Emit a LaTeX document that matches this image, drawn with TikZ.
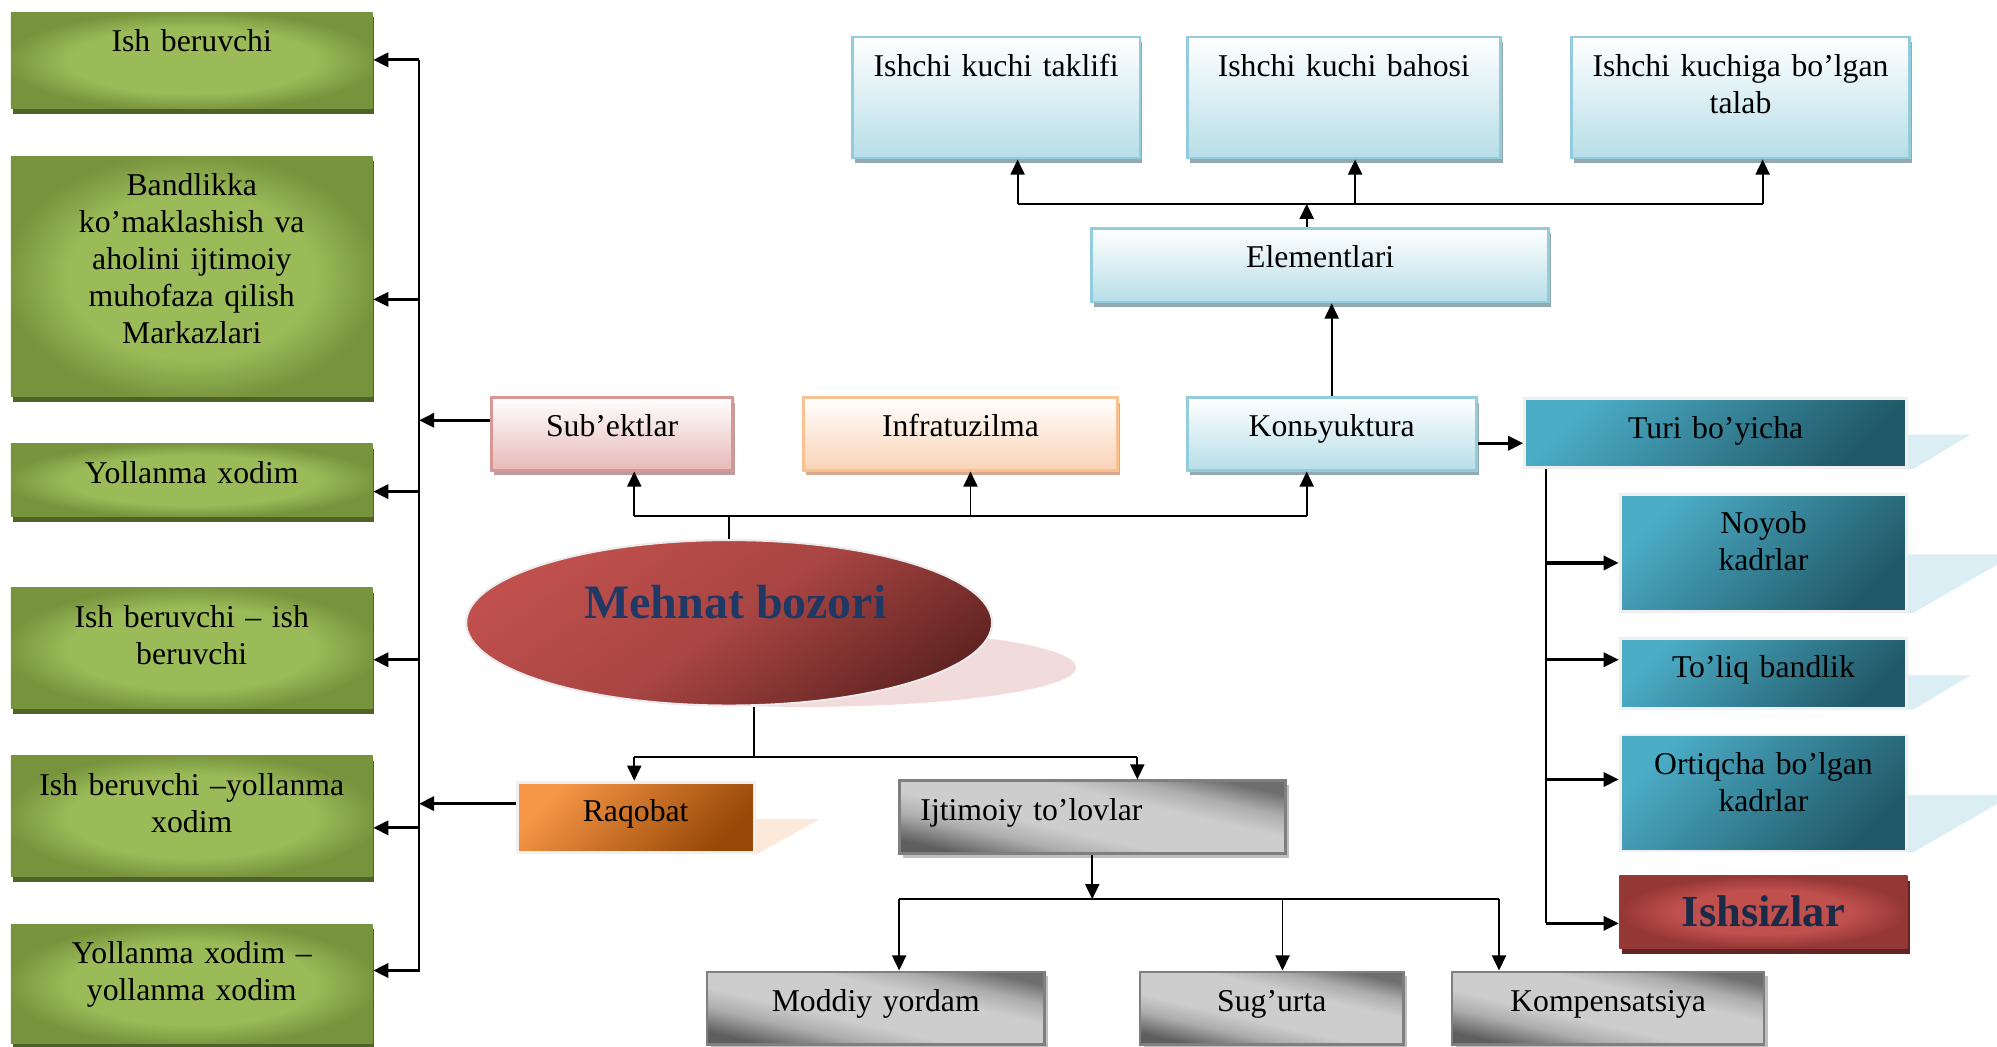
\documentclass[tikz,border=0pt]{standalone}
\usepackage{fontspec}
\setmainfont{Liberation Serif}
\usetikzlibrary{arrows.meta,shapes.geometric,shadows}

\definecolor{grn}{HTML}{77933C}
\definecolor{grnlt}{HTML}{9BBB59}
\definecolor{grndk}{HTML}{4F6228}
\definecolor{blueedge}{HTML}{93CDDD}
\definecolor{bluelt}{HTML}{B7DEE8}
\definecolor{bluesh}{HTML}{93A9AF}
\definecolor{pinkedge}{HTML}{D99694}
\definecolor{pinklt}{HTML}{E6B9B8}
\definecolor{pinksh}{HTML}{BC9C9C}
\definecolor{peachedge}{HTML}{FAC090}
\definecolor{peachlt}{HTML}{FAD3B6}
\definecolor{peachsh}{HTML}{D5AA8E}
\definecolor{teallt}{HTML}{4BACC6}
\definecolor{tealdk}{HTML}{215968}
\definecolor{tealsh}{HTML}{DAEEF3}
\definecolor{orlt}{HTML}{F79646}
\definecolor{ordk}{HTML}{984807}
\definecolor{orsh}{HTML}{FDE9D9}
\definecolor{redlt}{HTML}{C0504D}
\definecolor{redmid}{HTML}{953735}
\definecolor{reddk}{HTML}{632523}
\definecolor{redsh}{HTML}{F2DCDB}
\definecolor{navy}{HTML}{1F3864}
\definecolor{darknavy}{HTML}{1B2A47}
\definecolor{gmdark}{HTML}{5E5E5E}
\definecolor{gmhalf}{HTML}{ADADAD}
\definecolor{gmlight}{HTML}{CDCDCD}
\definecolor{gmmid}{HTML}{6E6E6E}
\definecolor{grayedge}{HTML}{7F7F7F}
\definecolor{graysh}{HTML}{BFBFBF}

\newcommand{\dpx}{0.3613pt}

\pgfdeclareradialshading{greenglow}{\pgfpoint{0bp}{0bp}}{color(0bp)=(grnlt); color(17bp)=(grnlt); color(26bp)=(grn); color(50bp)=(grn)}
\pgfdeclareradialshading{redglow}{\pgfpoint{0bp}{0bp}}{color(0bp)=(redlt); color(15bp)=(redlt); color(25bp)=(redmid); color(50bp)=(redmid)}
\pgfdeclareverticalshading{metal}{100bp}{color(0bp)=(gmdark); color(25bp)=(gmdark); color(35bp)=(gmhalf); color(43bp)=(gmlight); color(59bp)=(gmlight); color(67bp)=(gmhalf); color(75bp)=(gmmid); color(100bp)=(gmmid)}

\begin{document}
\begin{tikzpicture}[x=\dpx, y=-\dpx,
	every node/.style={font=\fontsize{9}{10.5}\selectfont},
	base/.style 2 args={rectangle, anchor=north west, inner sep=0pt, align=center,
		text width=#1*\dpx, text height=31*\dpx, text depth=(#2-31)*\dpx},
	greenbox/.style={shade, shading=greenglow,
		drop shadow={fill=grndk, opacity=1, shadow xshift=0.5pt, shadow yshift=-1.5pt}},
	bluebox/.style={draw=blueedge, line width=0.8pt, top color=white, bottom color=bluelt,
		drop shadow={fill=bluesh, opacity=1, shadow xshift=0.7pt, shadow yshift=-1.5pt}},
	pinkbox/.style={draw=pinkedge, line width=0.8pt, top color=white, bottom color=pinklt,
		drop shadow={fill=pinksh, opacity=1, shadow xshift=0.7pt, shadow yshift=-1.5pt}},
	peachbox/.style={draw=peachedge, line width=0.8pt, top color=white, bottom color=peachlt,
		drop shadow={fill=peachsh, opacity=1, shadow xshift=0.7pt, shadow yshift=-1.5pt}},
	tealbox/.style={draw=white!94!black, line width=0.8pt, top color=teallt, bottom color=tealdk, shading angle=45},
	orangebox/.style={draw=white!94!black, line width=0.8pt, top color=orlt, bottom color=ordk, shading angle=45},
	graybox/.style={draw=grayedge, line width=0.8pt, shade, shading=metal, shading angle=-13,
		drop shadow={fill=graysh, opacity=1, shadow xshift=1pt, shadow yshift=-1.2pt}},
	redbox/.style={shade, shading=redglow,
		drop shadow={fill=reddk, opacity=1, shadow xshift=0.7pt, shadow yshift=-1.5pt}},
	bus/.style={line width=0.55pt},
	arr/.style={-{Triangle[length=4.3pt,width=4pt]}, line width=0.55pt},
	stub/.style={arr, line width=0.9pt}]

	\useasboundingbox (0,0) rectangle (1568,822);

	\fill[redsh] (630,524) ellipse [x radius=215, y radius=31];

	\node[greenbox, base={284}{76}] (ishber) at (8,9) {Ish beruvchi};
	\node[greenbox, base={284}{189}] (bandlik) at (8,122) {Bandlikka\\ko’maklashish va\\aholini ijtimoiy\\muhofaza qilish\\Markazlari};
	\node[greenbox, base={284}{57}] (yollanma) at (8,348) {Yollanma xodim};
	\node[greenbox, base={284}{95}] (ishish) at (8,461) {Ish beruvchi – ish\\beruvchi};
	\node[greenbox, base={284}{95}] (ishyol) at (8,593) {Ish beruvchi –yollanma\\xodim};
	\node[greenbox, base={284}{94}] (yolyol) at (8,725) {Yollanma xodim –\\yollanma xodim};

	\node[bluebox, base={226}{95}] (taklif) at (668,28) {Ishchi kuchi taklifi};
	\node[bluebox, base={246}{95}] (bahosi) at (931,28) {Ishchi kuchi bahosi};
	\node[bluebox, base={265}{95}] (talab) at (1233,28) {Ishchi kuchiga bo’lgan\\talab};
	\node[bluebox, base={359}{58}] (elem) at (856,178) {Elementlari};

	\node[pinkbox, base={189}{57}] (subekt) at (385,311) {Sub’ektlar};
	\node[peachbox, base={246}{57}] (infra) at (630,311) {Infratuzilma};
	\node[bluebox, base={227}{57}] (konb) at (931,311) {Konьyuktura};

	\node[ellipse, minimum width=413*\dpx, minimum height=130*\dpx, inner sep=0pt,
		text height=25*\dpx, text depth=32*\dpx, draw=white!92!black, line width=0.6pt,
		top color=redlt, bottom color=reddk, middle color=redlt!75!reddk, shading angle=35, text=navy,
		font=\bfseries\fontsize{13.6}{16}\selectfont] (mehnat) at (572.5,489) {\hspace*{3.6pt}Mehnat bozori};

	\node[orangebox, base={186}{55}] (raqobat) at (405,613) {Raqobat};
	\node[graybox, base={303}{57}, align=left] (ijtim) at (705,612) {\hspace*{6pt}Ijtimoiy to’lovlar};
	\node[graybox, base={265}{57}] (moddiy) at (554,762) {Moddiy yordam};
	\node[graybox, base={207}{57}] (sugurta) at (894,762) {Sug’urta};
	\node[graybox, base={245}{57}] (kompens) at (1139,762) {Kompensatsiya};

	\node[tealbox, base={300}{54}] (turi) at (1196,312) {Turi bo’yicha};
	\node[tealbox, base={225}{92}] (noyob) at (1271,387) {Noyob\\kadrlar};
	\node[tealbox, base={225}{55}] (toliq) at (1271,500) {To’liq bandlik};
	\node[tealbox, base={225}{91}] (ortiq) at (1271,576) {Ortiqcha bo’lgan\\kadrlar};
	\node[redbox, base={226}{57}, text height=40*\dpx, text depth=17*\dpx, text=darknavy,
		font=\bfseries\fontsize{12.6}{15}\selectfont] (ishsiz) at (1271,687) {Ishsizlar};

	\fill[orsh] (raqobat.south east) -- ++(0,-27) -- ++(50,0) -- ++(-48,27) -- cycle;
	\fill[tealsh] (turi.south east) -- ++(0,-27) -- ++(49,0) -- ++(-45,27) -- cycle;
	\fill[tealsh] (noyob.south east) -- ++(0,-46) -- ++(84,0) -- ++(-80,46) -- cycle;
	\fill[tealsh] (toliq.south east) -- ++(0,-27) -- ++(49,0) -- ++(-45,27) -- cycle;
	\fill[tealsh] (ortiq.south east) -- ++(0,-45) -- ++(82,0) -- ++(-78,45) -- cycle;

	\coordinate (lbus) at (329,0);
	\draw[bus] (lbus |- 0,47) -- (lbus |- 0,763);
	\foreach \n/\y in {ishber/47, bandlik/235, yollanma/386, ishish/518, ishyol/650, yolyol/762}
		\draw[stub] (lbus |- 0,\y) -- (\n.east |- 0,\y);
	\draw[stub] (subekt.west |- 0,330) -- (lbus |- 0,330);
	\draw[stub] (raqobat.west |- 0,631) -- (lbus |- 0,631);

	\coordinate (t1) at (799,160);
	\coordinate (t2) at (1064,160);
	\coordinate (t3) at (1384,160);
	\coordinate (te) at (1026,160);
	\draw[bus] (t1) -- (t3);
	\draw[arr] (te |- elem.north) -- (te);
	\foreach \n/\c in {taklif/t1, bahosi/t2, talab/t3}
		\draw[arr] (\c) -- (\c |- \n.south);
	\draw[arr] (konb.north) -- (konb.north |- elem.south);

	\coordinate (m1) at (498,405);
	\coordinate (m2) at (762,405);
	\coordinate (m3) at (1026,405);
	\draw[bus] (mehnat.north) -- (mehnat.north |- m1);
	\draw[bus] (m1) -- (m3);
	\foreach \n/\c in {subekt/m1, infra/m2, konb/m3}
		\draw[arr] (\c) -- (\c |- \n.south);

	\coordinate (r0) at (592,594);
	\coordinate (r1) at (498,594);
	\coordinate (r2) at (893,594);
	\draw[bus] (r0 |- mehnat.south) -- (r0);
	\draw[bus] (r1) -- (r2);
	\draw[arr] (r1) -- (r1 |- raqobat.north);
	\draw[arr] (r2) -- (r2 |- ijtim.north);

	\coordinate (s1) at (706,706);
	\coordinate (s2) at (1007,706);
	\coordinate (s3) at (1177,706);
	\draw[arr] (ijtim.south) -- (ijtim.south |- s1);
	\draw[bus] (s1) -- (s3);
	\foreach \n/\c in {moddiy/s1, sugurta/s2, kompens/s3}
		\draw[arr] (\c) -- (\c |- \n.north);

	\draw[stub] (konb.east |- 0,348) -- (turi.west |- 0,348);
	\coordinate (rbus) at (1214,0);
	\draw[bus] (rbus |- turi.south) -- (rbus |- 0,725);
	\foreach \n/\y in {noyob/442, toliq/518, ortiq/612, ishsiz/725}
		\draw[stub] (rbus |- 0,\y) -- (\n.west |- 0,\y);

\end{tikzpicture}
\end{document}
